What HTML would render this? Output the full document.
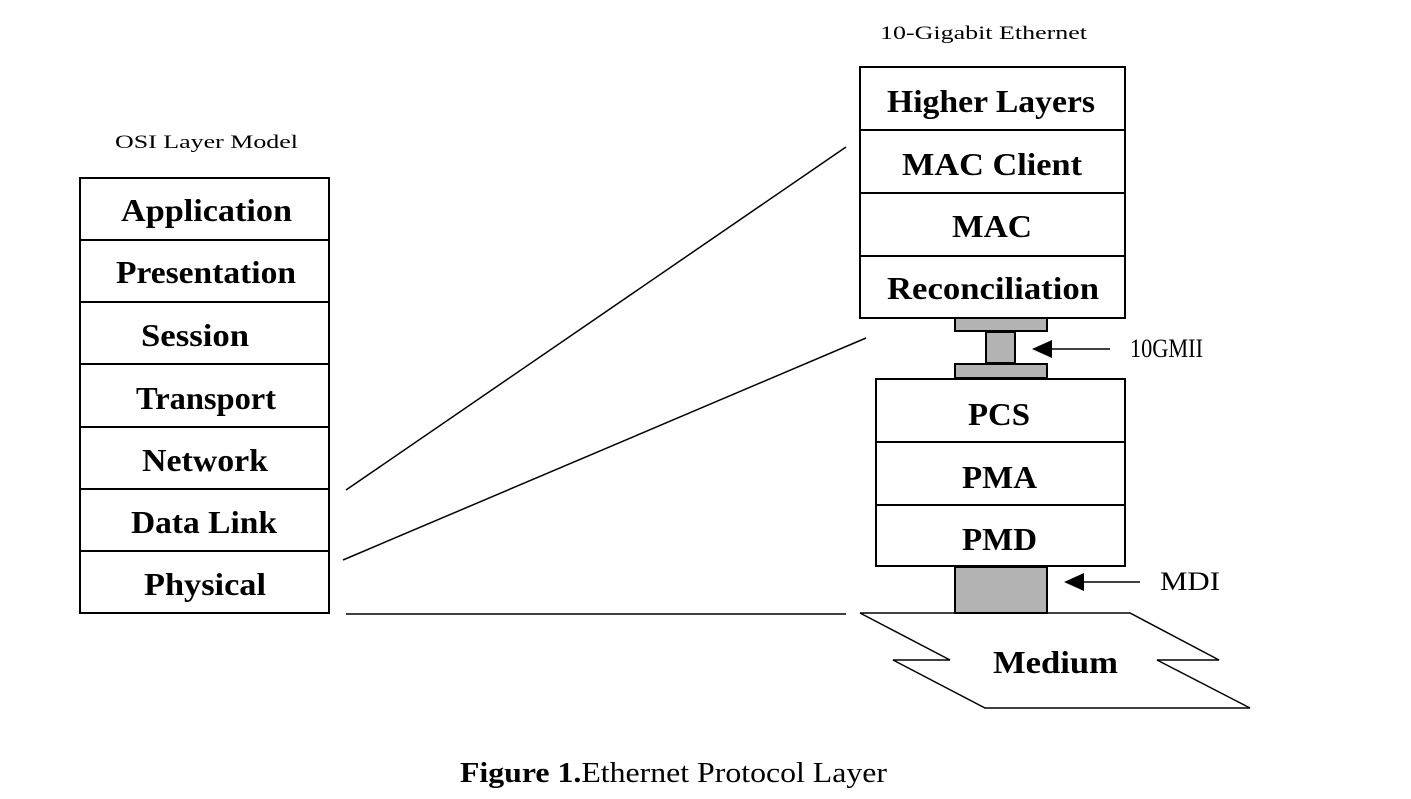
<!DOCTYPE html>
<html><head><style>
body{margin:0;background:#fff;}
svg text{font-family:"Liberation Serif",serif;}
</style></head><body>
<svg width="1411" height="794" viewBox="0 0 1411 794" xmlns="http://www.w3.org/2000/svg">
<rect width="1411" height="794" fill="#fff"/>
<g stroke="#000" stroke-width="2" fill="#fff">
<rect x="80" y="178" width="249" height="435"/>
<line x1="80" y1="240" x2="329" y2="240"/>
<line x1="80" y1="302" x2="329" y2="302"/>
<line x1="80" y1="364" x2="329" y2="364"/>
<line x1="80" y1="427" x2="329" y2="427"/>
<line x1="80" y1="489" x2="329" y2="489"/>
<line x1="80" y1="551" x2="329" y2="551"/>
<rect x="860" y="67" width="265" height="251"/>
<line x1="860" y1="130" x2="1125" y2="130"/>
<line x1="860" y1="193" x2="1125" y2="193"/>
<line x1="860" y1="256" x2="1125" y2="256"/>
<rect x="876" y="379" width="249" height="187"/>
<line x1="876" y1="442" x2="1125" y2="442"/>
<line x1="876" y1="505" x2="1125" y2="505"/>
</g>
<g stroke="#000" stroke-width="2" fill="#b3b3b3">
<rect x="955" y="318" width="92" height="13"/>
<rect x="986" y="332" width="29" height="31"/>
<rect x="955" y="364" width="92" height="14"/>
<rect x="955" y="567" width="92" height="46"/>
</g>
<g stroke="#000" stroke-width="1.5" fill="none">
<line x1="346" y1="490" x2="846" y2="147"/>
<line x1="343" y1="560" x2="866" y2="338"/>
<line x1="346" y1="614" x2="846" y2="614"/>
<polyline points="860,613 1130,613 1219,660 1157,660 1250,708 985,708 893,660 950,660 860,613"/>
<line x1="1045" y1="349" x2="1110" y2="349"/>
<line x1="1078" y1="582" x2="1140" y2="582"/>
</g>
<polygon points="1032,349 1052,340 1052,358" fill="#000"/>
<polygon points="1064,582 1084,573 1084,591" fill="#000"/>
<g font-size="32" font-weight="bold" lengthAdjust="spacingAndGlyphs">
<text x="121" y="221" textLength="171" lengthAdjust="spacingAndGlyphs">Application</text>
<text x="116" y="283" textLength="180" lengthAdjust="spacingAndGlyphs">Presentation</text>
<text x="141" y="346" textLength="108" lengthAdjust="spacingAndGlyphs">Session</text>
<text x="136" y="409" textLength="140" lengthAdjust="spacingAndGlyphs">Transport</text>
<text x="142" y="471" textLength="126" lengthAdjust="spacingAndGlyphs">Network</text>
<text x="131" y="533" textLength="146" lengthAdjust="spacingAndGlyphs">Data Link</text>
<text x="144" y="595" textLength="122" lengthAdjust="spacingAndGlyphs">Physical</text>
<text x="887" y="112" textLength="208" lengthAdjust="spacingAndGlyphs">Higher Layers</text>
<text x="902" y="175" textLength="180" lengthAdjust="spacingAndGlyphs">MAC Client</text>
<text x="952" y="237" textLength="80" lengthAdjust="spacingAndGlyphs">MAC</text>
<text x="887" y="299" textLength="212" lengthAdjust="spacingAndGlyphs">Reconciliation</text>
<text x="968" y="425" textLength="62" lengthAdjust="spacingAndGlyphs">PCS</text>
<text x="962" y="488" textLength="75" lengthAdjust="spacingAndGlyphs">PMA</text>
<text x="962" y="550" textLength="75" lengthAdjust="spacingAndGlyphs">PMD</text>
<text x="993" y="673" textLength="125" lengthAdjust="spacingAndGlyphs">Medium</text>
</g>
<g font-size="19">
<text x="115" y="148" textLength="183" lengthAdjust="spacingAndGlyphs">OSI Layer Model</text>
<text x="880" y="39" textLength="207" lengthAdjust="spacingAndGlyphs">10-Gigabit Ethernet</text>
</g>
<text x="1130" y="357" font-size="26" textLength="73" lengthAdjust="spacingAndGlyphs">10GMII</text>
<text x="1160" y="590" font-size="26" textLength="60" lengthAdjust="spacingAndGlyphs">MDI</text>
<text x="460" y="782" font-size="29" textLength="427" lengthAdjust="spacingAndGlyphs"><tspan font-weight="bold">Figure 1.</tspan>Ethernet Protocol Layer</text>
</svg>
</body></html>
